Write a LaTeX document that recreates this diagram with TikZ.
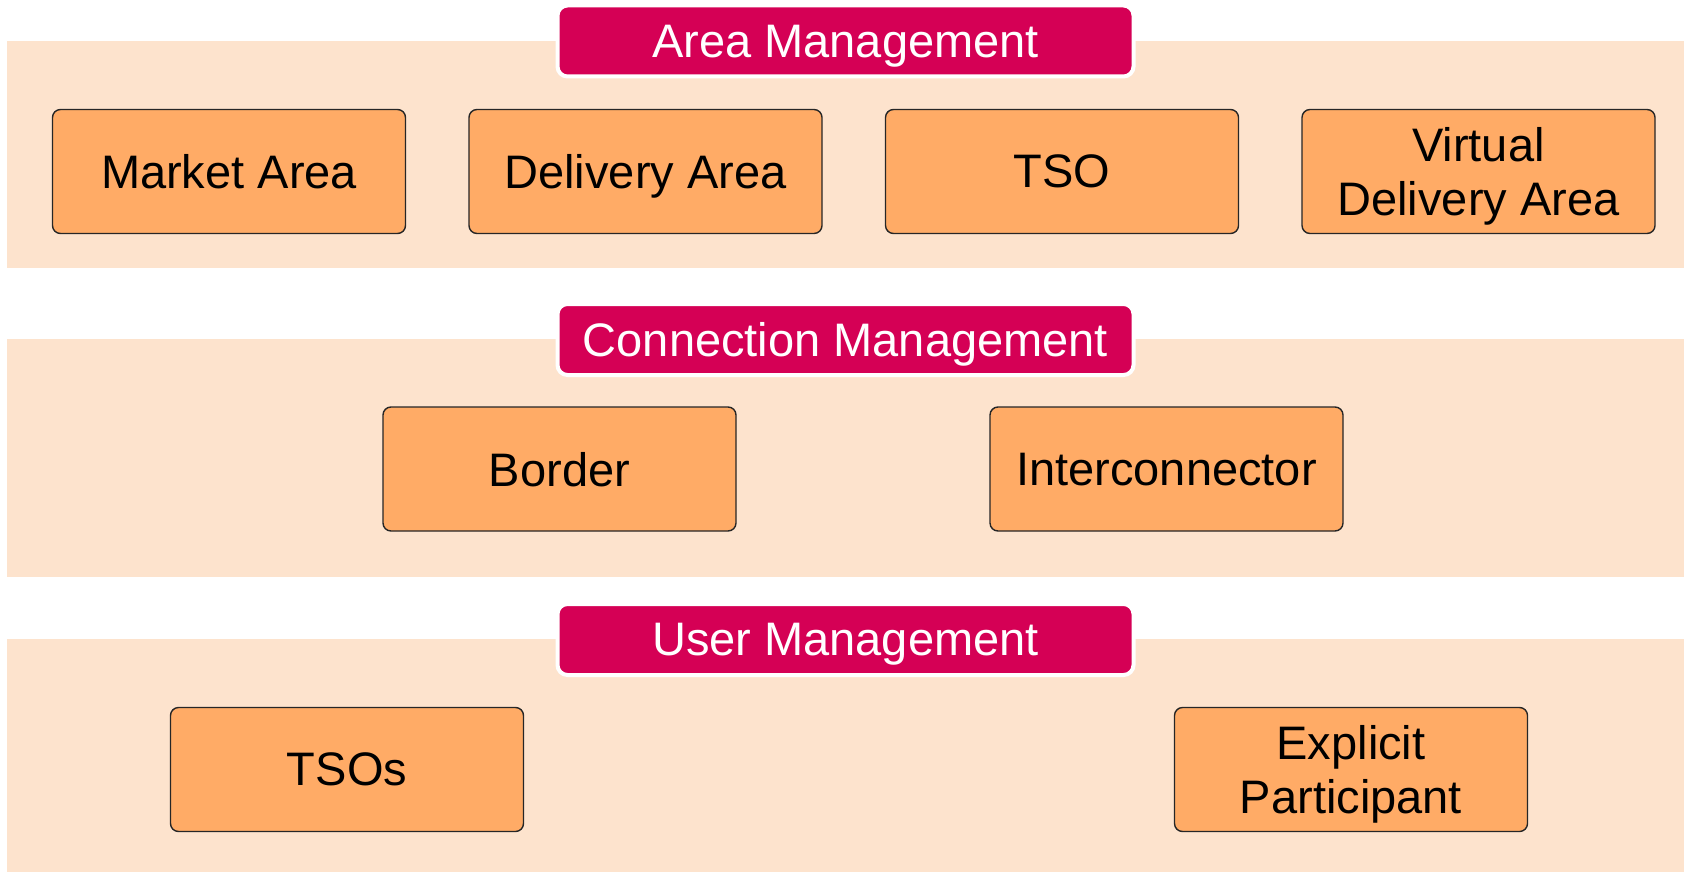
\documentclass[tikz,border=0pt]{standalone}
\usepackage{fontspec}
\setmainfont{Liberation Sans}
\usetikzlibrary{positioning}
\definecolor{bandpeach}{RGB}{253,227,205}
\definecolor{itemorange}{RGB}{255,171,102}
\definecolor{headmagenta}{RGB}{213,0,85}
\tikzstyle{item} = [rectangle, rounded corners=4pt, fill=itemorange, draw=black!85, line width=0.7pt, minimum width=176.5pt, minimum height=62pt, inner sep=2pt, outer sep=0pt, align=center, text depth=0pt, font=\fontsize{23.5}{27}\selectfont]

\begin{document}
\begin{tikzpicture}[x=0.5pt, y=-0.5pt,
  header/.style={rectangle, rounded corners=5pt, fill=headmagenta, draw=white, line width=2pt, text=white, minimum width=288pt, minimum height=35.5pt, inner sep=0pt, text depth=0pt, font=\fontsize{23.5}{27}\selectfont},
  band/.style={fill=bandpeach}]
\useasboundingbox (0,0) rectangle (1684,872);

% Bands
\fill[band] (7,41)  rectangle (1684,268);
\fill[band] (7,339) rectangle (1684,577);
\fill[band] (7,639) rectangle (1684,872);

% Headers
\node[header] (area) at (845.5,41)  {Area Management};
\node[header] (conn) at (845.5,339.5) {Connection Management};
\node[header] (user) at (845.5,639.5) {User Management};

% Area items
\node[item] (ma)  at (229,171.5)          {Market Area};
\node[item, right = 31.75pt of ma] (da)  {Delivery Area};
\node[item, right = 31.75pt of da] (tso) {TSO};
\node[item, right = 31.75pt of tso] (vda) {Virtual\\Delivery Area};

% Connection items
\node[item] (bd)  at (559.5,469)          {Border};
\node[item, right = 127pt of bd] (ic)   {Interconnector};

% User items
\node[item] (tsos) at (347,769.5)         {TSOs};
\node[item, right = 325.5pt of tsos] (ep) {Explicit\\Participant};
\end{tikzpicture}
\end{document}
